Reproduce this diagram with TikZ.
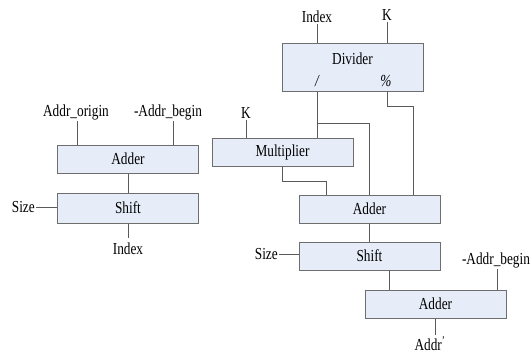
\documentclass[tikz,border=0pt]{standalone}
\usepackage{graphicx}
\usepackage{fontspec}
\setmainfont{Liberation Serif}
\definecolor{boxfill}{RGB}{230,237,248}
\definecolor{boxline}{RGB}{110,110,110}
\definecolor{wirec}{RGB}{90,90,90}
\newcommand\tx[1]{\scalebox{0.95}[1.2]{#1}}
\begin{document}
\begin{tikzpicture}[x=1pt,y=-1pt,
  blk/.style={draw=boxline,fill=boxfill,line width=1pt,minimum width=141pt,minimum height=28pt,inner sep=0pt,font=\fontsize{14}{16}\selectfont},
  lbl/.style={inner sep=1pt,font=\fontsize{14}{16}\selectfont},
  wire/.style={draw=wirec,line width=0.9pt}]
\useasboundingbox[fill=white] (0,0) rectangle (531,354);
% left part
\node[blk] (addL) at (128,159) {\tx{Adder}};
\node[blk,minimum height=30pt] (shL) at (128,208) {\tx{Shift}};
\node[lbl] (orig) at (76,112) {\tx{Addr\_origin}};
\node[lbl] (begL) at (168,112) {\tx{-Addr\_begin}};
\node[lbl,anchor=east] (sizeL) at (36,207) {\tx{Size}};
\node[lbl,anchor=north,inner ysep=5pt] (idxL) at (128,238) {\tx{Index}};
\draw[wire] ([xshift=1]orig.south) -- ([xshift=1]orig.south |- addL.north);
\draw[wire] ([xshift=5]begL.south) -- ([xshift=5]begL.south |- addL.north);
\draw[wire] (addL.south) -- (shL.north);
\draw[wire] (sizeL.east) -- (sizeL.east -| shL.west);
\draw[wire] (shL.south) -- (idxL.north);
% right part
\node[blk,minimum height=48pt] (div) at (352.5,67) {};
\node[lbl] (dtitle) at (352.5,59) {\tx{Divider}};
\node[lbl] (dsl) at (317,81) {\tx{\itshape /}};
\node[lbl] (dpc) at (386,81) {\tx{\itshape\%}};
\node[lbl] (idxT) at (317,17) {\tx{Index}};
\node[lbl] (kT) at (387,15) {\tx{K}};
\draw[wire] (idxT.south) -- (idxT.south |- div.north);
\draw[wire] (kT.south) -- (kT.south |- div.north);
\node[blk] (mul) at (282.5,152) {\tx{Multiplier}};
\node[lbl] (kM) at (246,113) {\tx{K}};
\draw[wire] (kM.south) -- (kM.south |- mul.north);
\node[blk] (add2) at (369.5,209) {\tx{Adder}};
\node[blk] (sh2) at (369.5,256) {\tx{Shift}};
\node[blk] (add3) at (435.5,304) {\tx{Adder}};
\node[lbl,anchor=east] (size2) at (279,254) {\tx{Size}};
\node[lbl] (beg2) at (496,260) {\tx{-Addr\_begin}};
\node[lbl,anchor=north] (addrp) at (430,335) {\tx{Addr\textsuperscript{'}}};
\coordinate (br) at (317,123);
\draw[wire] (dsl |- div.south) -- ([xshift=34.5]mul.north);
\draw[wire] (br) -| (add2.north);
\draw[wire] (387,91) |- (413,106) -- ([xshift=43.5]add2.north);
\draw[wire] (mul.south) -- ++(0,15) -| ([xshift=-43.5]add2.north);
\draw[wire] (add2.south) -- (sh2.north);
\draw[wire] (size2.east) -- (size2.east -| sh2.west);
\draw[wire] ([xshift=19.5]sh2.south) -- ([xshift=-46.5]add3.north);
\draw[wire] ([xshift=1]beg2.south) -- ([xshift=1]beg2.south |- add3.north);
\draw[wire] (add3.south) -- (add3.south |- addrp.north);
\end{tikzpicture}
\end{document}
